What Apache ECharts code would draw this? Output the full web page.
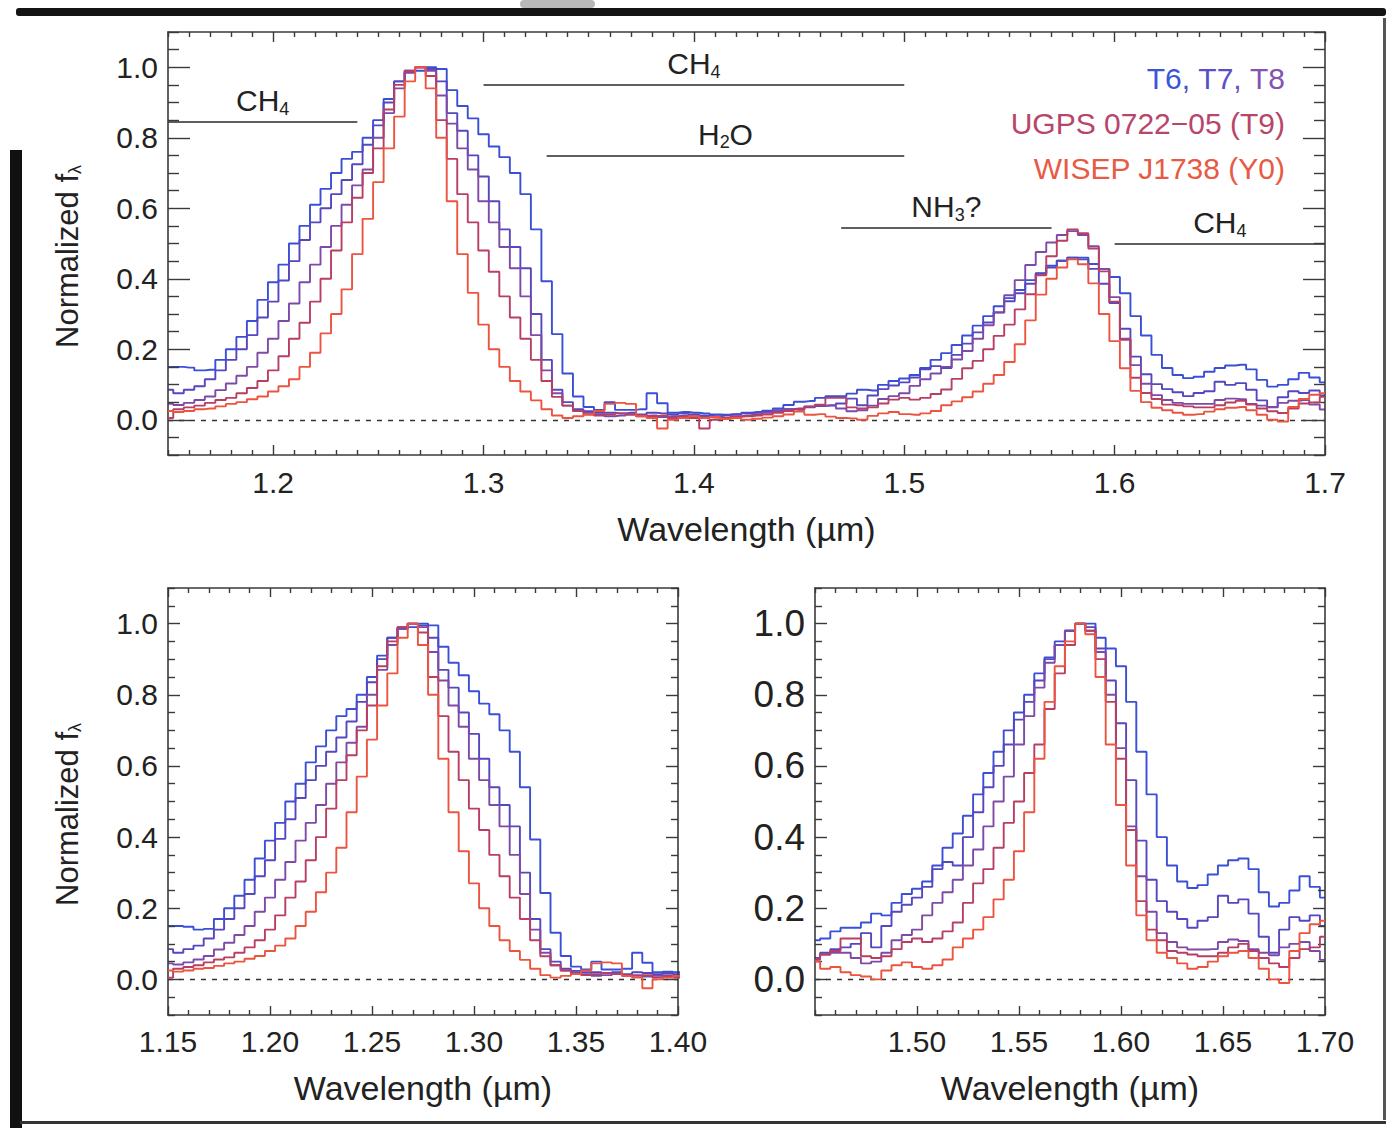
<!DOCTYPE html>
<html>
<head>
<meta charset="utf-8">
<script src="https://cdn.jsdelivr.net/npm/echarts@6/dist/echarts.min.js"></script>
<style>
  html, body { margin: 0; padding: 0; background: #fff; }
  #chart { width: 1395px; height: 1128px; }
</style>
</head>
<body>
<div id="chart"></div>
<script>
// ---- Spectral grid: 0.005 µm bins ----------------------------------------
const binWidth = 0.005;
const jStart = 1.150, jBins = 60;   // 1.150 – 1.445 µm
const hStart = 1.450, hBins = 51;   // 1.450 – 1.700 µm

const spectra = ['T6', 'T7', 'T8', 'UGPS 0722−05 (T9)', 'WISEP J1738 (Y0)'];
const lineColors = ['#3a4fd6', '#5447c0', '#7e4aa8', '#b83e62', '#ec5440'];

// Flux normalised to the J-band peak (1.150 – 1.445 µm)
const fluxJ_T6 = [0.150,0.150,0.148,0.140,0.142,0.170,0.200,0.235,0.280,0.340,
                  0.390,0.440,0.500,0.550,0.610,0.655,0.700,0.740,0.760,0.800,
                  0.850,0.910,0.960,0.985,0.990,1.000,0.995,0.935,0.890,0.855,
                  0.810,0.775,0.745,0.700,0.640,0.540,0.393,0.243,0.131,0.066,
                  0.036,0.028,0.050,0.028,0.028,0.030,0.075,0.047,0.020,0.022,
                  0.020,0.018,0.015,0.014,0.016,0.020,0.022,0.026,0.032,0.042];
const fluxJ_T7 = [0.085,0.075,0.085,0.095,0.115,0.140,0.170,0.200,0.240,0.290,
                  0.335,0.395,0.450,0.510,0.560,0.600,0.640,0.680,0.725,0.780,
                  0.835,0.900,0.960,0.990,1.000,0.995,0.960,0.870,0.820,0.750,
                  0.690,0.620,0.540,0.490,0.430,0.300,0.170,0.085,0.050,0.030,
                  0.024,0.020,0.020,0.018,0.020,0.015,0.020,0.018,0.015,0.018,
                  0.015,0.012,0.010,0.012,0.015,0.018,0.020,0.024,0.027,0.030];
const fluxJ_T8 = [0.045,0.042,0.048,0.056,0.066,0.084,0.103,0.125,0.150,0.190,
                  0.230,0.280,0.330,0.390,0.440,0.490,0.550,0.610,0.665,0.710,
                  0.800,0.870,0.940,0.985,1.000,0.990,0.920,0.840,0.770,0.710,
                  0.620,0.560,0.490,0.430,0.350,0.240,0.140,0.075,0.040,0.025,
                  0.020,0.015,0.010,0.012,0.015,0.010,0.012,0.008,0.010,0.012,
                  0.010,0.008,0.006,0.005,0.010,0.012,0.015,0.020,0.025,0.030];
const fluxJ_T9 = [0.005,0.030,0.035,0.040,0.048,0.056,0.062,0.075,0.090,0.110,
                  0.140,0.180,0.230,0.275,0.335,0.400,0.480,0.560,0.630,0.700,
                  0.770,0.880,0.950,0.990,1.000,0.975,0.850,0.740,0.640,0.560,
                  0.480,0.420,0.350,0.290,0.230,0.170,0.110,0.065,0.040,0.025,
                  0.015,0.012,0.015,0.018,0.015,0.012,0.010,0.012,0.005,0.008,
                  0.005,-0.025,0.000,0.005,0.008,0.010,0.012,0.015,0.020,0.025];
const fluxJ_Y0 = [0.025,0.022,0.025,0.030,0.032,0.038,0.045,0.050,0.058,0.066,
                  0.080,0.095,0.115,0.150,0.190,0.245,0.300,0.370,0.470,0.570,
                  0.674,0.770,0.860,0.960,1.000,0.940,0.800,0.620,0.470,0.360,
                  0.270,0.200,0.150,0.110,0.080,0.055,0.030,0.012,0.005,0.010,
                  0.015,0.025,0.045,0.048,0.045,0.010,0.005,-0.025,0.000,0.005,
                  0.010,0.005,0.008,0.002,0.005,0.000,0.003,0.006,0.010,0.015];

// Flux normalised to the H-band peak (1.450 – 1.700 µm)
const fluxH_T6 = [0.110,0.115,0.135,0.145,0.145,0.160,0.185,0.180,0.215,0.240,
                  0.255,0.275,0.320,0.370,0.410,0.460,0.520,0.580,0.640,0.700,
                  0.750,0.800,0.860,0.905,0.950,0.980,1.000,1.000,0.960,0.930,
                  0.880,0.780,0.640,0.520,0.400,0.320,0.275,0.257,0.265,0.295,
                  0.320,0.335,0.340,0.310,0.245,0.205,0.215,0.250,0.290,0.260,
                  0.230];
const fluxH_T7 = [0.060,0.075,0.085,0.090,0.100,0.130,0.090,0.150,0.190,0.210,
                  0.230,0.260,0.310,0.330,0.320,0.400,0.470,0.540,0.600,0.660,
                  0.730,0.780,0.840,0.900,0.940,0.980,1.000,0.990,0.930,0.840,
                  0.720,0.560,0.390,0.280,0.220,0.190,0.170,0.145,0.165,0.175,
                  0.235,0.215,0.225,0.185,0.120,0.075,0.140,0.175,0.165,0.180,
                  0.150];
const fluxH_T8 = [0.060,0.070,0.075,0.075,0.060,0.045,0.050,0.075,0.110,0.125,
                  0.140,0.180,0.215,0.245,0.280,0.320,0.365,0.430,0.500,0.570,
                  0.660,0.740,0.820,0.890,0.940,0.980,1.000,0.980,0.920,0.800,
                  0.650,0.430,0.290,0.190,0.130,0.105,0.090,0.084,0.084,0.085,
                  0.105,0.112,0.108,0.085,0.075,0.068,0.090,0.100,0.105,0.080,
                  0.055];
const fluxH_T9 = [0.055,0.070,0.080,0.115,0.115,0.065,0.060,0.065,0.085,0.105,
                  0.115,0.105,0.115,0.135,0.160,0.215,0.270,0.310,0.370,0.440,
                  0.500,0.580,0.660,0.760,0.860,0.940,1.000,0.980,0.900,0.780,
                  0.620,0.420,0.220,0.140,0.110,0.080,0.075,0.070,0.065,0.065,
                  0.075,0.090,0.100,0.080,0.060,0.045,0.035,0.060,0.085,0.090,
                  0.120];
const fluxH_Y0 = [0.050,0.030,0.035,0.020,0.012,0.008,0.000,0.025,0.040,0.048,
                  0.035,0.030,0.040,0.056,0.090,0.115,0.140,0.175,0.225,0.280,
                  0.360,0.470,0.620,0.780,0.880,0.950,1.000,0.970,0.850,0.660,
                  0.490,0.320,0.180,0.110,0.075,0.060,0.045,0.030,0.035,0.050,
                  0.065,0.075,0.080,0.060,0.030,0.000,-0.010,0.080,0.130,0.155,
                  0.165];

// H-band peak height relative to the J-band peak
const hPeakRatio = [0.46, 0.46, 0.535, 0.54, 0.455];

// Absorption features marked over the full spectrum
const features = [
  { formula: ['CH', '4'],       from: 1.15, to: 1.24, level: 0.845 },
  { formula: ['CH', '4'],       from: 1.30, to: 1.50, level: 0.950 },
  { formula: ['H', '2', 'O'],   from: 1.33, to: 1.50, level: 0.750 },
  { formula: ['NH', '3', '?'],  from: 1.47, to: 1.57, level: 0.545 },
  { formula: ['CH', '4'],       from: 1.60, to: 1.70, level: 0.500 }
];

// Legend lines (text, colour) – first line is three colours
const legendLines = [
  [['T6', '#3a55d6'], [', ', '#4a50cc'], ['T7', '#5a4fc8'], [', ', '#6a4fbf'], ['T8', '#8553b2']],
  [['UGPS 0722−05 (T9)', '#b8456a']],
  [['WISEP J1738 (Y0)', '#e85a45']]
];

// Tick positions
const yMajor = [0.0, 0.2, 0.4, 0.6, 0.8, 1.0];
const topXMajor = [1.2, 1.3, 1.4, 1.5, 1.6, 1.7];
const jXMajor = [1.15, 1.20, 1.25, 1.30, 1.35, 1.40];
const hXMajor = [1.50, 1.55, 1.60, 1.65, 1.70];

// ---------------------------------------------------------------------------
const FONT = '"Liberation Sans", Arial, Helvetica, sans-serif';
const INK = '#222';
const AXIS = '#3a3a3a';

const fluxJ = [fluxJ_T6, fluxJ_T7, fluxJ_T8, fluxJ_T9, fluxJ_Y0];
const fluxH = [fluxH_T6, fluxH_T7, fluxH_T8, fluxH_T9, fluxH_Y0];

const r3 = v => Math.round(v * 1000) / 1000;
const jWave = Array.from({ length: jBins }, (_, i) => r3(jStart + i * binWidth));
const hWave = Array.from({ length: hBins }, (_, i) => r3(hStart + i * binWidth));

function stepsBetween(min, max, step, skip) {
  const out = [];
  const n = Math.round((max - min) / step);
  for (let i = 0; i <= n; i++) {
    const v = r3(min + i * step);
    if (!skip.some(s => Math.abs(s - v) < 1e-6)) out.push(v);
  }
  return out;
}

// Four-sided box: main axis with labels + mirrored axis, each with
// separate major and minor tick sets (ticks point inward).
const xAxes = [], yAxes = [];
function boxAxes(dim, gridIndex, o) {
  const list = dim === 'x' ? xAxes : yAxes;
  const sides = dim === 'x' ? ['bottom', 'top'] : ['left', 'right'];
  const mainIndex = list.length;
  sides.forEach((pos, s) => {
    [true, false].forEach(isMajor => {
      const isLabelled = s === 0 && isMajor;
      const ax = {
        type: 'value', gridIndex, min: o.min, max: o.max, position: pos,
        axisLine: { show: isMajor, onZero: false, lineStyle: { color: AXIS, width: 1.6 } },
        axisTick: {
          show: true, inside: true,
          length: isMajor ? o.majorLen : o.minorLen,
          customValues: isMajor ? o.major : o.minor,
          lineStyle: { color: AXIS, width: 1.4 }
        },
        axisLabel: isLabelled ? {
          show: true, customValues: o.major, margin: o.labelMargin,
          formatter: v => Number(v).toFixed(o.digits),
          fontFamily: FONT, fontSize: o.labelSize, color: INK
        } : { show: false },
        splitLine: { show: false },
        minorTick: { show: false },
        z: 5
      };
      if (isLabelled && o.name) {
        ax.name = o.name;
        ax.nameLocation = 'middle';
        ax.nameGap = o.nameGap;
        ax.nameTextStyle = o.nameStyle;
      }
      list.push(ax);
    });
  });
  return mainIndex;
}

const waveName = 'Wavelength (µm)';
const waveStyle = { fontFamily: FONT, fontSize: 34, color: INK };
const fluxName = '{n|Normalized f}{s|λ}';
const fluxStyle = {
  padding: [0, 26, 0, 0],
  rich: {
    n: { fontFamily: FONT, fontSize: 31, color: INK, lineHeight: 34 },
    s: { fontFamily: FONT, fontSize: 18, color: INK, lineHeight: 14, verticalAlign: 'bottom' }
  }
};

const grids = [
  { left: 168, top: 32, width: 1157, height: 423 },
  { left: 168, top: 588, width: 510, height: 427 },
  { left: 815, top: 588, width: 510, height: 427 }
];

const yMinorAll = stepsBetween(-0.1, 1.1, 0.05, yMajor);

// Panel 0: full spectrum
const px0 = boxAxes('x', 0, { min: 1.15, max: 1.70, major: topXMajor,
  minor: stepsBetween(1.15, 1.70, 0.01, topXMajor), majorLen: 10, minorLen: 5,
  digits: 1, labelSize: 30, labelMargin: 12, name: waveName, nameGap: 57, nameStyle: waveStyle });
const py0 = boxAxes('y', 0, { min: -0.1, max: 1.1, major: yMajor, minor: yMinorAll,
  majorLen: 22, minorLen: 11, digits: 1, labelSize: 30, labelMargin: 10,
  name: fluxName, nameGap: 84, nameStyle: fluxStyle });
// Panel 1: J band
const px1 = boxAxes('x', 1, { min: 1.15, max: 1.40, major: jXMajor,
  minor: stepsBetween(1.15, 1.40, 0.01, jXMajor), majorLen: 9, minorLen: 5,
  digits: 2, labelSize: 30, labelMargin: 11, name: waveName, nameGap: 56, nameStyle: waveStyle });
const py1 = boxAxes('y', 1, { min: -0.1, max: 1.1, major: yMajor, minor: yMinorAll,
  majorLen: 12, minorLen: 7, digits: 1, labelSize: 30, labelMargin: 10,
  name: fluxName, nameGap: 84, nameStyle: fluxStyle });
// Panel 2: H band
const px2 = boxAxes('x', 2, { min: 1.45, max: 1.70, major: hXMajor,
  minor: stepsBetween(1.45, 1.70, 0.01, hXMajor), majorLen: 9, minorLen: 5,
  digits: 2, labelSize: 30, labelMargin: 11, name: waveName, nameGap: 56, nameStyle: waveStyle });
const py2 = boxAxes('y', 2, { min: -0.1, max: 1.1, major: yMajor, minor: yMinorAll,
  majorLen: 12, minorLen: 7, digits: 1, labelSize: 37, labelMargin: 10 });

const zeroLine = {
  yAxis: 0, label: { show: false },
  lineStyle: { type: [5, 6], color: '#333', width: 1.4 }
};

function formulaRich(parts) {
  return parts.map((p, i) => (i % 2 ? '{s|' : '{m|') + p + '}').join('');
}
const featureLines = features.map(f => [
  { coord: [f.from, f.level], name: formulaRich(f.formula) },
  { coord: [f.to, f.level] }
]);

const series = [];
function addSpectra(xi, yi, pointsFor, withFeatures) {
  spectra.forEach((name, k) => {
    const s = {
      type: 'line', name, xAxisIndex: xi, yAxisIndex: yi,
      data: pointsFor(k), step: 'middle', showSymbol: false, symbol: 'none',
      clip: true, silent: true, z: 2 + k,
      lineStyle: { color: lineColors[k], width: 1.9 },
      itemStyle: { color: lineColors[k] }
    };
    if (k === 0) {
      s.markLine = {
        silent: true, symbol: ['none', 'none'], animation: false,
        lineStyle: { type: 'solid', color: '#2a2a2a', width: 1.6 },
        label: {
          show: true, position: 'insideMiddleTop', distance: 4,
          formatter: p => p.name,
          rich: {
            m: { fontFamily: FONT, fontSize: 30, color: INK, lineHeight: 34 },
            s: { fontFamily: FONT, fontSize: 18, color: INK, lineHeight: 11, verticalAlign: 'bottom' }
          }
        },
        data: withFeatures ? [zeroLine].concat(featureLines) : [zeroLine]
      };
    }
    series.push(s);
  });
}

// Full spectrum: J part as measured, H part rescaled by its peak ratio
addSpectra(px0, py0, k =>
  jWave.map((w, i) => [w, fluxJ[k][i]])
    .concat(hWave.map((w, i) => [w, r3(fluxH[k][i] * hPeakRatio[k])])), true);
addSpectra(px1, py1, k => jWave.map((w, i) => [w, fluxJ[k][i]]), false);
addSpectra(px2, py2, k => hWave.map((w, i) => [w, fluxH[k][i]]), false);

// Legend block, right-aligned in the upper panel
const legendGraphics = legendLines.map((line, i) => {
  const rich = {};
  line.forEach((seg, j) => { rich['c' + j] = { fill: seg[1], fontFamily: FONT, fontSize: 30 }; });
  return {
    type: 'text', x: 1285, y: 78 + i * 45, z: 10,
    style: {
      text: line.map((seg, j) => '{c' + j + '|' + seg[0] + '}').join(''),
      rich, align: 'right', verticalAlign: 'middle', fontFamily: FONT, fontSize: 30
    }
  };
});

// Mounting frame around the figure
const frame = [
  { type: 'rect', shape: { x: 520, y: 0, width: 75, height: 8, r: 4 }, style: { fill: '#9a9a9a', opacity: 0.7 } },
  { type: 'rect', shape: { x: 16, y: 8, width: 1370, height: 8, r: 3 }, style: { fill: '#141414' } },
  { type: 'rect', shape: { x: 10, y: 150, width: 12, height: 980 }, style: { fill: '#111' } },
  { type: 'rect', shape: { x: 1383, y: 18, width: 3, height: 1102 }, style: { fill: '#555' } },
  { type: 'rect', shape: { x: 20, y: 1121, width: 1366, height: 3 }, style: { fill: '#333' } }
];

const chart = echarts.init(document.getElementById('chart'), null, { renderer: 'svg', width: 1395, height: 1128 });
chart.setOption({
  backgroundColor: '#ffffff',
  animation: false,
  grid: grids,
  xAxis: xAxes,
  yAxis: yAxes,
  series,
  graphic: frame.concat(legendGraphics)
});
</script>
</body>
</html>
